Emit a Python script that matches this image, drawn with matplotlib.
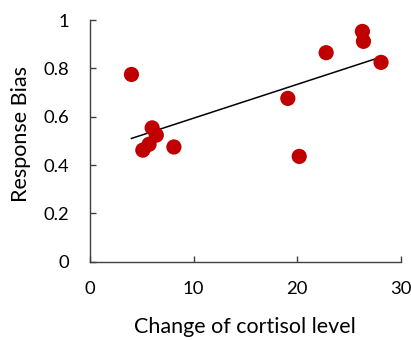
import numpy as np
import matplotlib.pyplot as plt

# 코르티솔 변화량 vs 반응 편향
cortisol_change = [4.0, 5.1, 5.7, 6.0, 6.4, 8.1, 19.1, 20.2, 22.8, 26.3, 26.4, 28.1]
response_bias = [0.775, 0.462, 0.486, 0.554, 0.524, 0.475, 0.676, 0.436, 0.865, 0.953, 0.912, 0.825]

x_ticks = [0, 10, 20, 30]
y_ticks = [0, 0.2, 0.4, 0.6, 0.8, 1]
y_tick_labels = ['0', '0.2', '0.4', '0.6', '0.8', '1']

plt.rcParams['font.family'] = ['Lato', 'DejaVu Sans']

fig = plt.figure(figsize=(4.11, 3.4), dpi=100)
ax = fig.add_axes([0.219, 0.230, 0.756, 0.711])

x = np.array(cortisol_change)
y = np.array(response_bias)
slope, intercept = np.polyfit(x, y, 1)
xs = np.array([x.min(), x.max()])
ax.plot(xs, slope * xs + intercept, color='black', linewidth=1.1, zorder=2)
ax.scatter(x, y, s=120, color='#C00000', edgecolors='none', zorder=3)

ax.set_xlim(0, 30)
ax.set_ylim(0, 1)
ax.set_xticks(x_ticks)
ax.set_yticks(y_ticks)
ax.set_yticklabels(y_tick_labels)

for side in ['top', 'right']:
    ax.spines[side].set_visible(False)
for side in ['left', 'bottom']:
    ax.spines[side].set_color('#404040')
    ax.spines[side].set_linewidth(1.0)

ax.tick_params(axis='both', direction='in', length=4, width=1.0, color='#404040', labelsize=13.3, labelcolor='black')
ax.tick_params(axis='y', pad=15)
ax.tick_params(axis='x', pad=14)

ax.set_xlabel('Change of cortisol level', fontsize=15.5, labelpad=14)
ax.set_ylabel('Response Bias', fontsize=15.5)
ax.yaxis.set_label_coords(-0.19, 0.53)

fig.savefig('out.png', dpi=100)
